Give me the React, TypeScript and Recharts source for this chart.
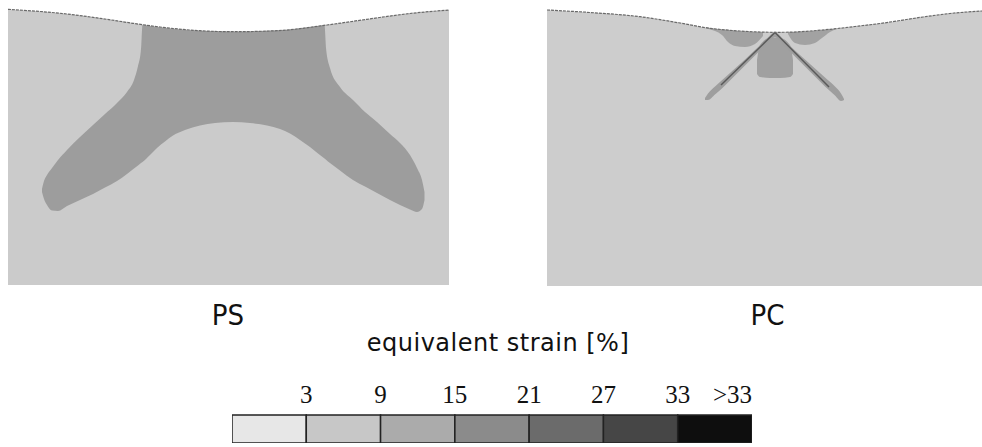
import React from 'react';
import { ComposedChart, Area, Line, XAxis, YAxis, BarChart, Bar } from 'recharts';

// ---- Specimen sizes (mm) ----
const PS_WIDTH = 44.1;
const PS_DEPTH = 27.7;
const PC_WIDTH = 43.5;
const PC_DEPTH = 27.8;

// ---- PS panel: deformed top surface (x, depth) ----
const psSurface = [
  { x: 0, d: 0.13 }, { x: 5.9, d: 0.6 }, { x: 9.2, d: 1.03 }, { x: 12.5, d: 1.53 },
  { x: 15.2, d: 1.9 }, { x: 19.2, d: 2.27 }, { x: 22.5, d: 2.37 }, { x: 26.9, d: 2.27 },
  { x: 31.9, d: 1.7 }, { x: 35.9, d: 1.13 }, { x: 40.2, d: 0.55 }, { x: 44.1, d: 0.2 },
];

// ---- PS panel: 9-15 % strain zone (x, upper depth, lower depth) ----
const psZone = [
  { x: 3.4, top: 18.1, bot: 18.4 }, { x: 3.6, top: 17.3, bot: 19.1 }, { x: 3.9, top: 16.7, bot: 19.7 },
  { x: 4.4, top: 16.0, bot: 20.25 }, { x: 5.0, top: 15.2, bot: 20.3 }, { x: 5.9, top: 14.2, bot: 19.8 },
  { x: 7.2, top: 12.9, bot: 19.2 }, { x: 8.5, top: 11.7, bot: 18.6 }, { x: 9.7, top: 10.6, bot: 17.95 },
  { x: 10.9, top: 9.5, bot: 17.3 }, { x: 11.9, top: 8.4, bot: 16.6 }, { x: 12.6, top: 7.2, bot: 16.05 },
  { x: 13.0, top: 5.8, bot: 15.75 }, { x: 13.3, top: 4.1, bot: 15.5 }, { x: 13.45, top: 1.7, bot: 15.4 },
  { x: 14.2, top: 1.8, bot: 14.7 }, { x: 14.9, top: 1.9, bot: 14.0 }, { x: 15.7, top: 2.0, bot: 13.35 },
  { x: 16.5, top: 2.1, bot: 12.75 }, { x: 17.7, top: 2.2, bot: 12.2 }, { x: 19.2, top: 2.27, bot: 11.75 },
  { x: 20.7, top: 2.33, bot: 11.5 }, { x: 22.5, top: 2.37, bot: 11.4 }, { x: 24.2, top: 2.34, bot: 11.5 },
  { x: 25.9, top: 2.28, bot: 11.75 }, { x: 27.2, top: 2.23, bot: 12.1 }, { x: 28.2, top: 2.15, bot: 12.55 },
  { x: 29.2, top: 2.03, bot: 13.2 }, { x: 30.2, top: 1.9, bot: 13.9 }, { x: 31.0, top: 1.8, bot: 14.55 },
  { x: 31.65, top: 1.7, bot: 15.05 }, { x: 31.8, top: 4.0, bot: 15.17 }, { x: 32.2, top: 6.0, bot: 15.5 },
  { x: 33.2, top: 7.9, bot: 16.25 }, { x: 34.5, top: 9.2, bot: 17.2 }, { x: 35.7, top: 10.4, bot: 17.85 },
  { x: 36.9, top: 11.4, bot: 18.5 }, { x: 38.2, top: 12.6, bot: 19.2 }, { x: 39.2, top: 13.5, bot: 19.7 },
  { x: 40.2, top: 14.7, bot: 20.15 }, { x: 40.9, top: 16.0, bot: 20.4 }, { x: 41.4, top: 17.2, bot: 20.1 },
  { x: 41.65, top: 18.4, bot: 19.2 },
];

// ---- PC panel: deformed top surface ----
const pcSurface = [
  { x: 0, d: 0.2 }, { x: 4.3, d: 0.45 }, { x: 9.3, d: 0.87 }, { x: 13.3, d: 1.5 },
  { x: 16.3, d: 2.03 }, { x: 19.3, d: 2.3 }, { x: 22.8, d: 2.43 }, { x: 24.3, d: 2.42 },
  { x: 26.3, d: 2.3 }, { x: 28.3, d: 2.13 }, { x: 30.8, d: 1.85 }, { x: 33.3, d: 1.55 },
  { x: 37.6, d: 0.9 }, { x: 40.3, d: 0.55 }, { x: 43.5, d: 0.3 },
];

// ---- PC panel: strain zones ----
const pcShearBand = [
  { x: 15.8, top: 9.0, bot: 9.2 }, { x: 16.1, top: 8.55, bot: 9.2 }, { x: 16.8, top: 7.85, bot: 8.65 },
  { x: 17.8, top: 6.95, bot: 7.75 }, { x: 18.8, top: 6.05, bot: 6.75 }, { x: 19.8, top: 5.15, bot: 5.75 },
  { x: 20.8, top: 4.2, bot: 4.75 }, { x: 21.8, top: 3.25, bot: 3.75 }, { x: 22.8, top: 2.45, bot: 2.95 },
  { x: 23.8, top: 3.3, bot: 3.85 }, { x: 24.8, top: 4.25, bot: 4.85 }, { x: 25.8, top: 5.15, bot: 5.85 },
  { x: 26.8, top: 6.05, bot: 6.85 }, { x: 27.8, top: 6.95, bot: 7.85 }, { x: 28.8, top: 7.85, bot: 8.75 },
  { x: 29.4, top: 8.55, bot: 9.3 }, { x: 29.7, top: 9.1, bot: 9.2 },
];
const pcCore = [
  { x: 21.0, top: 5.2, bot: 6.6 }, { x: 21.3, top: 3.7, bot: 6.9 }, { x: 22.3, top: 3.0, bot: 7.0 },
  { x: 23.3, top: 3.0, bot: 7.0 }, { x: 24.3, top: 3.7, bot: 6.9 }, { x: 24.6, top: 5.2, bot: 6.6 },
];
const pcWingLeft = [
  { x: 15.9, top: 1.95, bot: 2.05 }, { x: 16.8, top: 2.07, bot: 2.3 }, { x: 17.5, top: 2.15, bot: 2.7 },
  { x: 18.1, top: 2.2, bot: 3.4 }, { x: 18.8, top: 2.27, bot: 3.8 }, { x: 19.8, top: 2.34, bot: 3.9 },
  { x: 20.8, top: 2.39, bot: 3.6 }, { x: 21.6, top: 2.42, bot: 2.8 },
];
const pcWingRight = [
  { x: 24.1, top: 2.42, bot: 2.6 }, { x: 24.8, top: 2.4, bot: 3.5 }, { x: 25.8, top: 2.35, bot: 3.7 },
  { x: 26.8, top: 2.28, bot: 3.5 }, { x: 27.5, top: 2.22, bot: 3.0 }, { x: 28.3, top: 2.13, bot: 2.4 },
  { x: 28.9, top: 2.07, bot: 2.1 },
];
const pcShearLine = [
  { x: 17.4, d: 7.7 }, { x: 22.8, d: 2.45 }, { x: 28.2, d: 7.9 },
];

// ---- Legend ----
const legendBins = ['<3', '3-9', '9-15', '15-21', '21-27', '27-33', '>33'];
const legendBinWidths = [6, 6, 6, 6, 6, 6, 6];
const legendTickValues = [6, 12, 18, 24, 30, 36, 42];
const legendTickLabels = ['3', '9', '15', '21', '27', '33', '>33'];
const legendColors = ['#e7e7e7', '#c7c7c7', '#ababab', '#8b8b8b', '#6b6b6b', '#464646', '#0e0e0e'];

const panelLabels = ['PS', 'PC'];
const legendTitle = 'equivalent strain [%]';

// ---- built tables ----
const toBand = (rows: { x: number; top: number; bot: number }[]) =>
  rows.map((r) => ({ x: r.x, band: [r.top, r.bot] }));
const surfaceBand = (rows: { x: number; d: number }[], depth: number) =>
  rows.map((r) => ({ x: r.x, d: r.d, band: [r.d, depth] }));

const legendRow: Record<string, any> = { name: 'strain' };
legendBins.forEach((_, i) => {
  legendRow['b' + i] = legendBinWidths[i];
});
const legendData = [legendRow];

const BG = '#cbcbcb';
const ZONE = '#9d9d9d';

type LayerProps = {
  data: any[];
  w: number;
  h: number;
  xMax: number;
  yMax: number;
  left: number;
  top: number;
  children: React.ReactNode;
};

function Layer({ data, w, h, xMax, yMax, left, top, children }: LayerProps) {
  return (
    <div style={{ position: 'absolute', left, top, width: w, height: h }}>
      <ComposedChart width={w} height={h} data={data} margin={{ top: 0, right: 0, bottom: 0, left: 0 }}>
        <XAxis type="number" dataKey="x" domain={[0, xMax]} hide allowDataOverflow />
        <YAxis type="number" domain={[0, yMax]} reversed hide allowDataOverflow />
        {children}
      </ComposedChart>
    </div>
  );
}

const bandArea = (fill: string) => (
  <Area
    type="monotone"
    dataKey="band"
    stroke="none"
    fill={fill}
    fillOpacity={1}
    dot={false}
    activeDot={false}
    isAnimationActive={false}
  />
);

const surfaceLine = (
  <Line
    type="monotone"
    dataKey="d"
    stroke="#6a6a6a"
    strokeWidth={1.2}
    strokeDasharray="3 1"
    dot={false}
    activeDot={false}
    isAnimationActive={false}
  />
);

const LegendTick = (props: any) => {
  const { x, y, payload } = props;
  const i = legendTickValues.indexOf(payload.value);
  const last = i === legendTickValues.length - 1;
  return (
    <text
      x={x}
      y={y}
      dy={-4}
      textAnchor={last ? 'end' : 'middle'}
      fontFamily="'Liberation Serif', 'Times New Roman', serif"
      fontSize={25}
      fill="#111"
    >
      {legendTickLabels[i]}
    </text>
  );
};

export default function App() {
  const ps = { w: 441, h: 277, left: 8, top: 8, xMax: PS_WIDTH, yMax: PS_DEPTH };
  const pc = { w: 435, h: 278, left: 547, top: 8, xMax: PC_WIDTH, yMax: PC_DEPTH };
  const psSurf = surfaceBand(psSurface, PS_DEPTH);
  const pcSurf = surfaceBand(pcSurface, PC_DEPTH);
  const sans = "'DejaVu Sans Condensed', 'DejaVu Sans', sans-serif";
  return (
    <div
      style={{
        position: 'fixed',
        left: 0,
        top: 0,
        width: 982,
        height: 447,
        background: '#ffffff',
        overflow: 'hidden',
      }}
    >
      {/* PS panel */}
      <Layer data={psSurf} {...ps}>{bandArea(BG)}</Layer>
      <Layer data={toBand(psZone)} {...ps}>{bandArea(ZONE)}</Layer>
      <Layer data={psSurf} {...ps}>{surfaceLine}</Layer>

      {/* PC panel */}
      <Layer data={pcSurf} {...pc}>{bandArea('#cdcdcd')}</Layer>
      <Layer data={toBand(pcWingLeft)} {...pc}>{bandArea('#a2a2a2')}</Layer>
      <Layer data={toBand(pcWingRight)} {...pc}>{bandArea('#a2a2a2')}</Layer>
      <Layer data={toBand(pcCore)} {...pc}>{bandArea('#a0a0a0')}</Layer>
      <Layer data={toBand(pcShearBand)} {...pc}>{bandArea('#9e9e9e')}</Layer>
      <Layer data={pcShearLine} {...pc}>
        <Line
          type="linear"
          dataKey="d"
          stroke="#5a5a5a"
          strokeWidth={1.5}
          dot={false}
          activeDot={false}
          isAnimationActive={false}
        />
      </Layer>
      <Layer data={pcSurf} {...pc}>{surfaceLine}</Layer>

      {/* Legend colour bar */}
      <div style={{ position: 'absolute', left: 232, top: 380, width: 520, height: 63 }}>
        <BarChart
          width={520}
          height={63}
          data={legendData}
          layout="vertical"
          barCategoryGap={0}
          margin={{ top: 0, right: 0, bottom: 0, left: 0 }}
        >
          <XAxis
            type="number"
            orientation="top"
            domain={[0, 42]}
            ticks={legendTickValues}
            interval={0}
            height={35}
            axisLine={false}
            tickLine={false}
            tick={<LegendTick />}
            allowDataOverflow
          />
          <YAxis type="category" dataKey="name" hide />
          {legendBins.map((b, i) => (
            <Bar
              key={b}
              dataKey={'b' + i}
              stackId="s"
              fill={legendColors[i]}
              stroke="#222"
              strokeWidth={1.5}
              isAnimationActive={false}
            />
          ))}
        </BarChart>
      </div>

      {/* Texts */}
      <svg width={982} height={447} style={{ position: 'absolute', left: 0, top: 0, pointerEvents: 'none' }}>
        <text x={228} y={324.5} textAnchor="middle" fontFamily={sans} fontSize={29} fill="#111">
          {panelLabels[0]}
        </text>
        <text x={767.5} y={325} textAnchor="middle" fontFamily={sans} fontSize={29} fill="#111">
          {panelLabels[1]}
        </text>
        <text
          x={498}
          y={351}
          textAnchor="middle"
          fontFamily="'DejaVu Sans', sans-serif"
          fontSize={24}
          letterSpacing={0.5}
          fill="#111"
        >
          {legendTitle}
        </text>
      </svg>
    </div>
  );
}
